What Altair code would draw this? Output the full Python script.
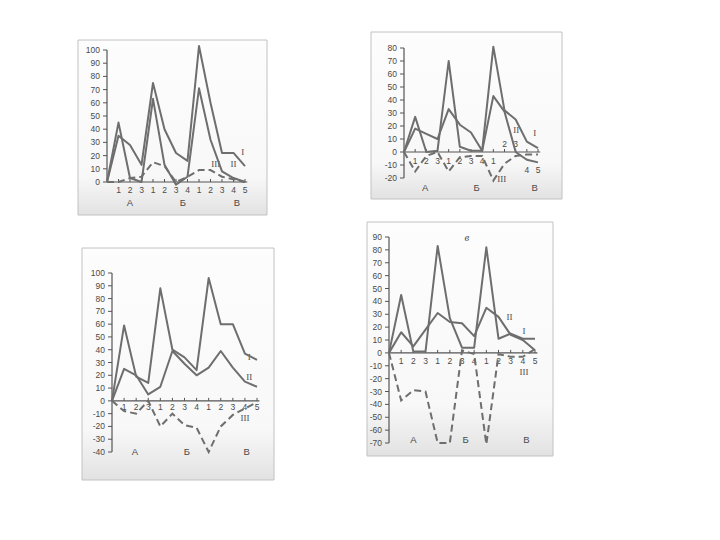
import altair as alt
import pandas as pd

# ---------------- data ----------------
POSITIONS = list(range(13))  # 0 = origin, then А1-А3, Б1-Б4, В1-В5
TICK_TEXT = ["1", "2", "3", "1", "2", "3", "4", "1", "2", "3", "4", "5"]
GROUPS = ["А", "Б", "В"]
SERIES = ["I", "II", "III"]

# panel 1 (top left)
P1_I = [0, 35, 28, 13, 75, 40, 22, 16, 103, 60, 22, 22, 12]
P1_II = [0, 45, 3, 0, 63, 13, -2, 4, 71, 32, 8, 3, 0]
P1_III = [0, 0, 3, 4, 15, 12, 0, 4, 9, 9, 4, 2, 0]
P1_YTICKS = list(range(0, 101, 10))

# panel 2 (top right)
P2_I = [0, 27, 0, 1, 70, 4, 1, 1, 81, 32, 25, 8, 3]
P2_II = [0, 18, 14, 10, 33, 21, 15, 1, 43, 31, 0, -6, -8]
P2_III = [0, -15, -3, 0, -15, -4, -3, -3, -22, -9, -3, -2, -2]
P2_YTICKS = list(range(-20, 81, 10))

# panel 3 (bottom left)
P3_I = [0, 59, 19, 14, 88, 40, 34, 24, 96, 60, 60, 37, 32]
P3_II = [0, 25, 20, 5, 11, 39, 29, 20, 26, 39, 26, 15, 11]
P3_III = [0, -8, -10, 0, -20, -10, -19, -21, -40, -20, -11, -6, -1]
P3_YTICKS = list(range(-40, 101, 10))

# panel 4 (bottom right, "в")
P4_I = [0, 45, 1, 1, 83, 27, 4, 4, 82, 11, 15, 11, 11]
P4_II = [0, 16, 5, 18, 31, 24, 23, 13, 35, 28, 14, 10, 2]
P4_III = [0, -37, -29, -30, -70, -70, 2, -1, -71, -1, -3, -3, 3]
P4_YTICKS = list(range(-70, 91, 10))

# ---------------- layout (page pixels) ----------------
M = 8  # page margin
PANELS = [
    dict(series=[P1_I, P1_II, P1_III], yticks=P1_YTICKS,
         xpx=(107, 245), ypx=(182, 50), frame=(78, 40, 267, 215),
         xlab_dy=[8] * 12, group_x=[2.0, 6.6, 11.3], group_dy=21,
         line_labels=[("I", 11.8, 23), ("II", 11.0, 13.6), ("III", 9.45, 13.6)],
         letter=None),
    dict(series=[P2_I, P2_II, P2_III], yticks=P2_YTICKS,
         xpx=(404, 538), ypx=(178, 48), frame=(371, 32, 562, 199),
         xlab_dy=[9, 9, 9, 9, 9, 9, 9, 9, -8, -8, 18, 18], group_x=[1.9, 6.5, 11.7], group_dy=36,
         line_labels=[("I", 11.7, 14.4), ("II", 10.05, 17), ("III", 8.75, -21)],
         letter=None),
    dict(series=[P3_I, P3_II, P3_III], yticks=P3_YTICKS,
         xpx=(112, 257), ypx=(452, 273), frame=(82, 248, 274, 480),
         xlab_dy=[6] * 12, group_x=[1.9, 6.2, 11.15], group_dy=51,
         line_labels=[("I", 11.35, 34), ("II", 11.35, 19), ("III", 11.0, -13.5)],
         letter=None),
    dict(series=[P4_I, P4_II, P4_III], yticks=P4_YTICKS,
         xpx=(389, 535), ypx=(443, 237), frame=(367, 222, 553, 456),
         xlab_dy=[8] * 12, group_x=[2.0, 6.3, 11.3], group_dy=87,
         line_labels=[("II", 9.9, 28), ("I", 11.1, 17), ("III", 11.1, -15)],
         letter=("в", 6.4, 89)),
]

LINE = "#6e6e6e"
TEXT = "#4a4a4a"
FONT = "Liberation Sans"
GRAD = alt.Gradient(
    gradient="linear", x1=0, x2=0, y1=0, y2=1,
    stops=[alt.GradientStop(color="#fdfdfd", offset=0),
           alt.GradientStop(color="#f8f8f8", offset=0.78),
           alt.GradientStop(color="#e2e2e2", offset=1)])


def build_panel(P):
    ymin, ymax = P["yticks"][0], P["yticks"][-1]
    xp0, xp1 = P["xpx"]
    yp0, yp1 = P["ypx"]
    ux = 12.0 / (xp1 - xp0)           # data units per px (x)
    uy = (ymax - ymin) / (yp0 - yp1)  # data units per px (y)
    xs = alt.Scale(domain=[0, 12], range=[xp0 - M, xp1 - M], nice=False, zero=False)
    ys = alt.Scale(domain=[ymin, ymax], range=[yp0 - M, yp1 - M], nice=False, zero=False)

    def X(f):
        return alt.X(f, type="quantitative", scale=xs, axis=None)

    def Y(f):
        return alt.Y(f, type="quantitative", scale=ys, axis=None)

    def inv_x(px):
        return (px - xp0) * ux

    def inv_y(py):
        return ymin + (yp0 - py) * uy

    fx0, fy0, fx1, fy1 = P["frame"]
    frame_df = pd.DataFrame({"x": [inv_x(fx0)], "x2": [inv_x(fx1)],
                             "y": [inv_y(fy1)], "y2": [inv_y(fy0)]})
    frame = alt.Chart(frame_df).mark_rect(color=GRAD, stroke="#c2c2c2", strokeWidth=1).encode(
        x=X("x"), x2="x2", y=Y("y"), y2="y2")

    rows = []
    for name, vals in zip(SERIES, P["series"]):
        for p, v in zip(POSITIONS, vals):
            rows.append({"pos": p, "value": v, "series": name})
    ldf = pd.DataFrame(rows)
    solid = alt.Chart(ldf[ldf.series != "III"]).mark_line(
        color=LINE, strokeWidth=2, strokeJoin="round").encode(
        x=X("pos"), y=Y("value"), detail="series:N")
    dashed = alt.Chart(ldf[ldf.series == "III"]).mark_line(
        color=LINE, strokeWidth=2, strokeDash=[7, 4]).encode(
        x=X("pos"), y=Y("value"))

    yaxis = alt.Chart(pd.DataFrame({"x": [0], "y": [ymin], "y2": [ymax]})).mark_rule(
        color="#555", strokeWidth=1.2).encode(x=X("x"), y=Y("y"), y2="y2")
    ytick_df = pd.DataFrame({"y": P["yticks"], "x": 0.0, "x2": -4 * ux,
                             "label": [str(v) for v in P["yticks"]]})
    yticks = alt.Chart(ytick_df).mark_rule(color="#555", strokeWidth=1).encode(
        x=X("x"), x2="x2", y=Y("y"))
    ylabels = alt.Chart(ytick_df).mark_text(
        align="right", baseline="middle", dx=-7, font=FONT, fontSize=8.5, color=TEXT).encode(
        x=X("x"), y=Y("y"), text="label:N")

    zero = alt.Chart(pd.DataFrame({"x": [0], "x2": [12.2], "y": [0]})).mark_rule(
        color="#555", strokeWidth=1.2).encode(x=X("x"), x2="x2", y=Y("y"))
    xt_df = pd.DataFrame({"x": POSITIONS[1:], "y": 0.0, "y2": 3 * uy,
                          "label": TICK_TEXT,
                          "ly": [-d * uy for d in P["xlab_dy"]]})
    xticks = alt.Chart(xt_df).mark_rule(color="#555", strokeWidth=1).encode(
        x=X("x"), y=Y("y"), y2="y2")
    xlabels = alt.Chart(xt_df).mark_text(
        baseline="middle", font=FONT, fontSize=8.5, color=TEXT).encode(
        x=X("x"), y=Y("ly"), text="label:N")

    g_df = pd.DataFrame({"x": P["group_x"], "y": -P["group_dy"] * uy, "label": GROUPS})
    groups = alt.Chart(g_df).mark_text(
        baseline="middle", font=FONT, fontSize=9.5, color=TEXT).encode(
        x=X("x"), y=Y("y"), text="label:N")

    ll_df = pd.DataFrame(P["line_labels"], columns=["label", "x", "y"])
    llabels = alt.Chart(ll_df).mark_text(
        baseline="middle", font="Liberation Serif", fontSize=9, color=TEXT).encode(
        x=X("x"), y=Y("y"), text="label:N")

    parts = [frame, yaxis, yticks, ylabels, zero, xticks, xlabels, groups, llabels, solid, dashed]
    if P["letter"]:
        t, lx, ly = P["letter"]
        parts.append(alt.Chart(pd.DataFrame({"label": [t], "x": [lx], "y": [ly]})).mark_text(
            baseline="middle", font="Liberation Serif", fontStyle="italic", fontSize=11,
            color=TEXT).encode(x=X("x"), y=Y("y"), text="label:N"))
    return alt.layer(*parts)


chart = alt.layer(*[build_panel(P) for P in PANELS]).resolve_scale(
    x="independent", y="independent"
).properties(
    width=704, height=524, padding=0,
    autosize=alt.AutoSizeParams(type="none"),
    background="white",
).configure_view(strokeWidth=0)

chart.save("out.html", embed_options={"renderer": "svg", "actions": False})
